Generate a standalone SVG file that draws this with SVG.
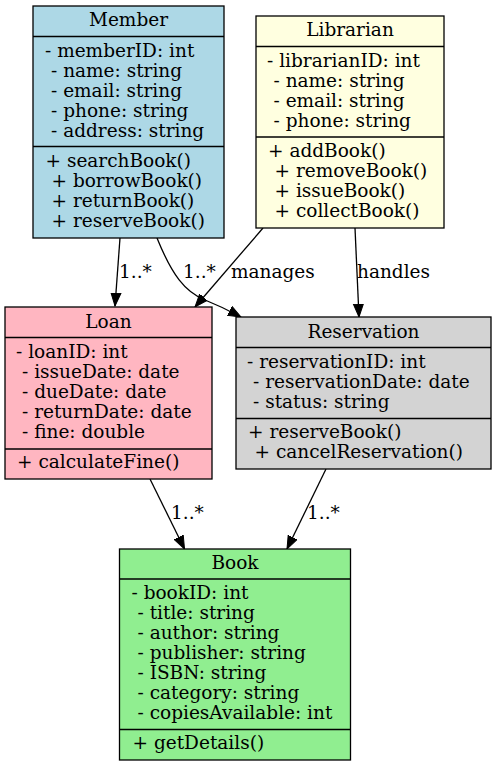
<svg xmlns="http://www.w3.org/2000/svg" width="496" height="767" viewBox="0 0 496 767">
<defs>
<style>
text{font-family:"DejaVu Serif","Liberation Serif",serif;font-size:18.5px;fill:#000}
.c{text-anchor:middle}
.box{stroke:#000;stroke-width:1.3}
.div{stroke:#000;stroke-width:1.3}
.edge{fill:none;stroke:#000;stroke-width:1.3}
</style>
<marker id="arr" markerUnits="userSpaceOnUse" markerWidth="14" markerHeight="12" viewBox="0 0 14 12" refX="13" refY="6" orient="auto">
<path d="M0,1 L13,6 L0,11 Z" fill="#000" stroke="#000" stroke-width="1"/>
</marker>
</defs>
<rect width="496" height="767" fill="#fff"/>

<g id="edges">
<path class="edge" d="M120,238 L115,306" marker-end="url(#arr)"/>
<text x="119" y="278">1..*</text>
<path class="edge" d="M157,238 C172,275 185,292 205,300 C220,306 230,311 241,317" marker-end="url(#arr)"/>
<text x="183" y="278">1..*</text>
<path class="edge" d="M263,228 L195,307" marker-end="url(#arr)"/>
<text x="231" y="278">manages</text>
<path class="edge" d="M355,228 L359,317" marker-end="url(#arr)"/>
<text x="357" y="278">handles</text>
<path class="edge" d="M150,479 L184.5,549" marker-end="url(#arr)"/>
<text x="171" y="519">1..*</text>
<path class="edge" d="M326,469 L287,549" marker-end="url(#arr)"/>
<text x="307" y="519">1..*</text>
</g>

<g id="Member">
<rect class="box" x="33" y="6" width="191" height="232" fill="#add8e6"/>
<line class="div" x1="33" y1="36.5" x2="224" y2="36.5"/>
<line class="div" x1="33" y1="146.5" x2="224" y2="146.5"/>
<text class="c" x="128.5" y="26">Member</text>
<text x="45" y="57">- memberID: int</text>
<text x="51" y="77">- name: string</text>
<text x="51" y="97">- email: string</text>
<text x="51" y="117">- phone: string</text>
<text x="51" y="137">- address: string</text>
<text x="45.5" y="167">+ searchBook()</text>
<text x="51.5" y="187">+ borrowBook()</text>
<text x="51.5" y="207">+ returnBook()</text>
<text x="51.5" y="227">+ reserveBook()</text>
</g>

<g id="Librarian">
<rect class="box" x="256" y="16" width="188" height="212" fill="#ffffe0"/>
<line class="div" x1="256" y1="46.5" x2="444" y2="46.5"/>
<line class="div" x1="256" y1="137" x2="444" y2="137"/>
<text class="c" x="350" y="36">Librarian</text>
<text x="267" y="67">- librarianID: int</text>
<text x="273.5" y="87">- name: string</text>
<text x="273.5" y="107">- email: string</text>
<text x="273.5" y="127">- phone: string</text>
<text x="268" y="157">+ addBook()</text>
<text x="274.5" y="177">+ removeBook()</text>
<text x="274.5" y="197">+ issueBook()</text>
<text x="274.5" y="217">+ collectBook()</text>
</g>

<g id="Loan">
<rect class="box" x="5" y="307" width="207" height="172" fill="#ffb6c1"/>
<line class="div" x1="5" y1="337.5" x2="212" y2="337.5"/>
<line class="div" x1="5" y1="449" x2="212" y2="449"/>
<text class="c" x="108.5" y="327.5">Loan</text>
<text x="16" y="357.5">- loanID: int</text>
<text x="22" y="377.5">- issueDate: date</text>
<text x="22" y="397.5">- dueDate: date</text>
<text x="22" y="417.5">- returnDate: date</text>
<text x="22" y="437.5">- fine: double</text>
<text x="17" y="467.5">+ calculateFine()</text>
</g>

<g id="Reservation">
<rect class="box" x="236" y="317" width="255" height="152" fill="#d3d3d3"/>
<line class="div" x1="236" y1="347.5" x2="491" y2="347.5"/>
<line class="div" x1="236" y1="418.5" x2="491" y2="418.5"/>
<text class="c" x="363.5" y="337.5">Reservation</text>
<text x="247" y="367.5">- reservationID: int</text>
<text x="253" y="387.5">- reservationDate: date</text>
<text x="253" y="407.5">- status: string</text>
<text x="248" y="438">+ reserveBook()</text>
<text x="254.5" y="458">+ cancelReservation()</text>
</g>

<g id="Book">
<rect class="box" x="119.5" y="549" width="231" height="211" fill="#90ee90"/>
<line class="div" x1="119.5" y1="579" x2="350.5" y2="579"/>
<line class="div" x1="119.5" y1="729.5" x2="350.5" y2="729.5"/>
<text class="c" x="235" y="568.5">Book</text>
<text x="131.5" y="599">- bookID: int</text>
<text x="137.5" y="619">- title: string</text>
<text x="137.5" y="639">- author: string</text>
<text x="137.5" y="659">- publisher: string</text>
<text x="137.5" y="679">- ISBN: string</text>
<text x="137.5" y="699">- category: string</text>
<text x="137.5" y="719">- copiesAvailable: int</text>
<text x="132.5" y="749">+ getDetails()</text>
</g>
</svg>
